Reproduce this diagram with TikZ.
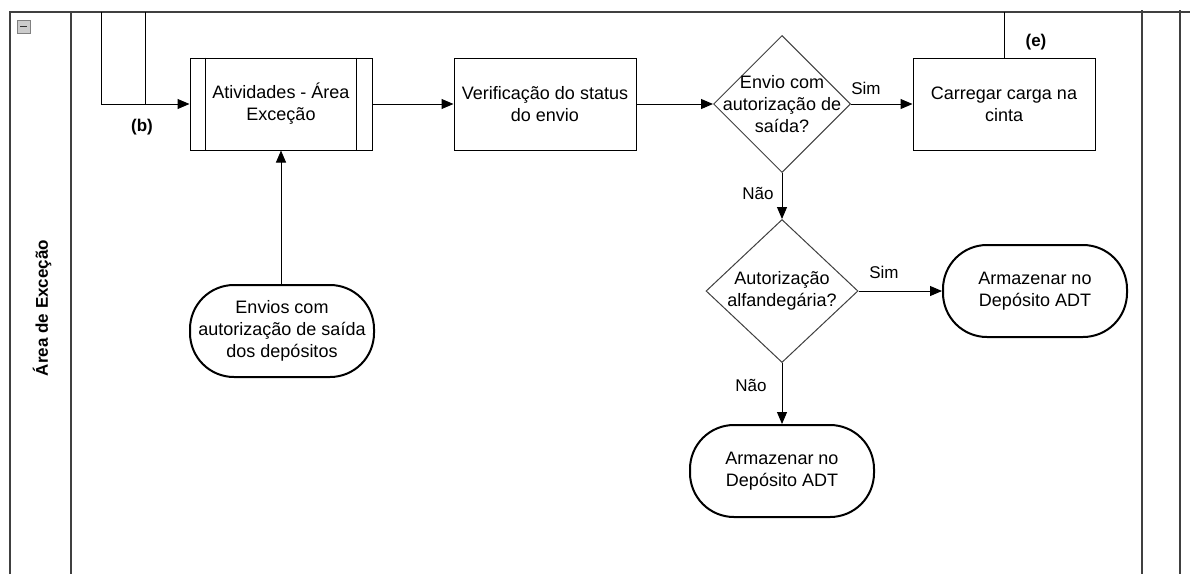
\documentclass[tikz,border=0pt]{standalone}
\usepackage{fontspec}
\setmainfont{Liberation Sans}
\usetikzlibrary{positioning,shapes.geometric,arrows.meta}

\tikzset{
  every node/.style={font=\fontsize{18}{22}\selectfont, align=center},
  box/.style={draw, line width=1pt, minimum width=182pt, minimum height=92pt, inner sep=0pt},
  terminal/.style={draw, line width=2pt, rounded corners=44pt, minimum width=184pt, minimum height=92pt, inner sep=0pt},
  decision/.style={draw=black!75, line width=1pt, diamond, inner sep=0pt},
  flow/.style={line width=1pt, -{Triangle[length=12pt,width=10pt]}},
  lane/.style={line width=1.3pt, draw=black!75},
  tag/.style={font=\fontsize{17}{20}\selectfont\bfseries},
  answer/.style={font=\fontsize{17}{20}\selectfont}
}

\begin{document}
\begin{tikzpicture}[x=1pt,y=-1pt]
\useasboundingbox[fill=white] (0,0) rectangle (1190,574);

% pool and lanes
\draw[lane] (10,574) -- (10,12) -- (1190,12);
\draw[lane] (71,12) -- (71,574);
\draw[lane] (1142,10) -- (1142,574);
\draw[lane] (1180,10) -- (1180,574);
\draw[black!50, fill=black!20] (17,20) rectangle (30,33);
\draw[line width=1.6pt, black!80] (20,26.5) -- (27,26.5);
\node[tag, rotate=90] (laneLbl) at (42,308) {Área de Exceção};

% steps
\node[box] (act) at (281,104) {Atividades - Área\\Exceção};
\draw[line width=1pt] ([xshift=16pt]act.north west) -- ([xshift=16pt]act.south west)
                      ([xshift=-16pt]act.north east) -- ([xshift=-16pt]act.south east);
\node[box] (check) at (545,104) {Verificação do status\\do envio};
\node[decision, minimum width=137pt, minimum height=137pt] (dExit) at (782,104) {};
\node at (dExit) {Envio com\\autorização de\\saída?};
\node[box] (load) at (1004,104) {Carregar carga na\\cinta};
\node[decision, minimum width=152pt, minimum height=143pt] (dCustoms) at (782,291) {};
\node at (dCustoms) {Autorização\\alfandegária?};
\node[terminal] (storeR) at (1035,291) {Armazenar no\\Depósito ADT};
\node[terminal] (storeB) at (782,471) {Armazenar no\\Depósito ADT};
\node[terminal] (orders) at (282,331) {Envios com\\autorização de saída\\dos depósitos};

% incoming from above
\coordinate (bTopA) at (101,12);
\coordinate (bTopB) at (145,12);
\coordinate (eTop) at (1004,12);
\draw[flow] (bTopA) |- (act.west);
\draw[line width=1pt] (bTopB) -- (bTopB |- act.west);
\node[tag] (bLbl) at (142,127) {(b)};
\draw[line width=1pt] (load.north) -- (eTop);
\node[tag] (eLbl) at (1036,42) {(e)};

% connectors
\draw[flow] (orders.north -| act.south) -- (act.south);
\draw[flow] (act.east) -- (check.west);
\draw[flow] (check.east) -- (dExit.west);
\draw[flow] (dExit.east) -- (load.west);
\node[answer] (sim1) at (866,88) {Sim};
\draw[flow] (dExit.south) -- (dCustoms.north);
\node[answer] (nao1) at (758,193) {Não};
\draw[flow] (dCustoms.east) -- (storeR.west);
\node[answer] (sim2) at (884,272) {Sim};
\draw[flow] (dCustoms.south) -- (storeB.north);
\node[answer] (nao2) at (751,385) {Não};
\end{tikzpicture}
\end{document}
